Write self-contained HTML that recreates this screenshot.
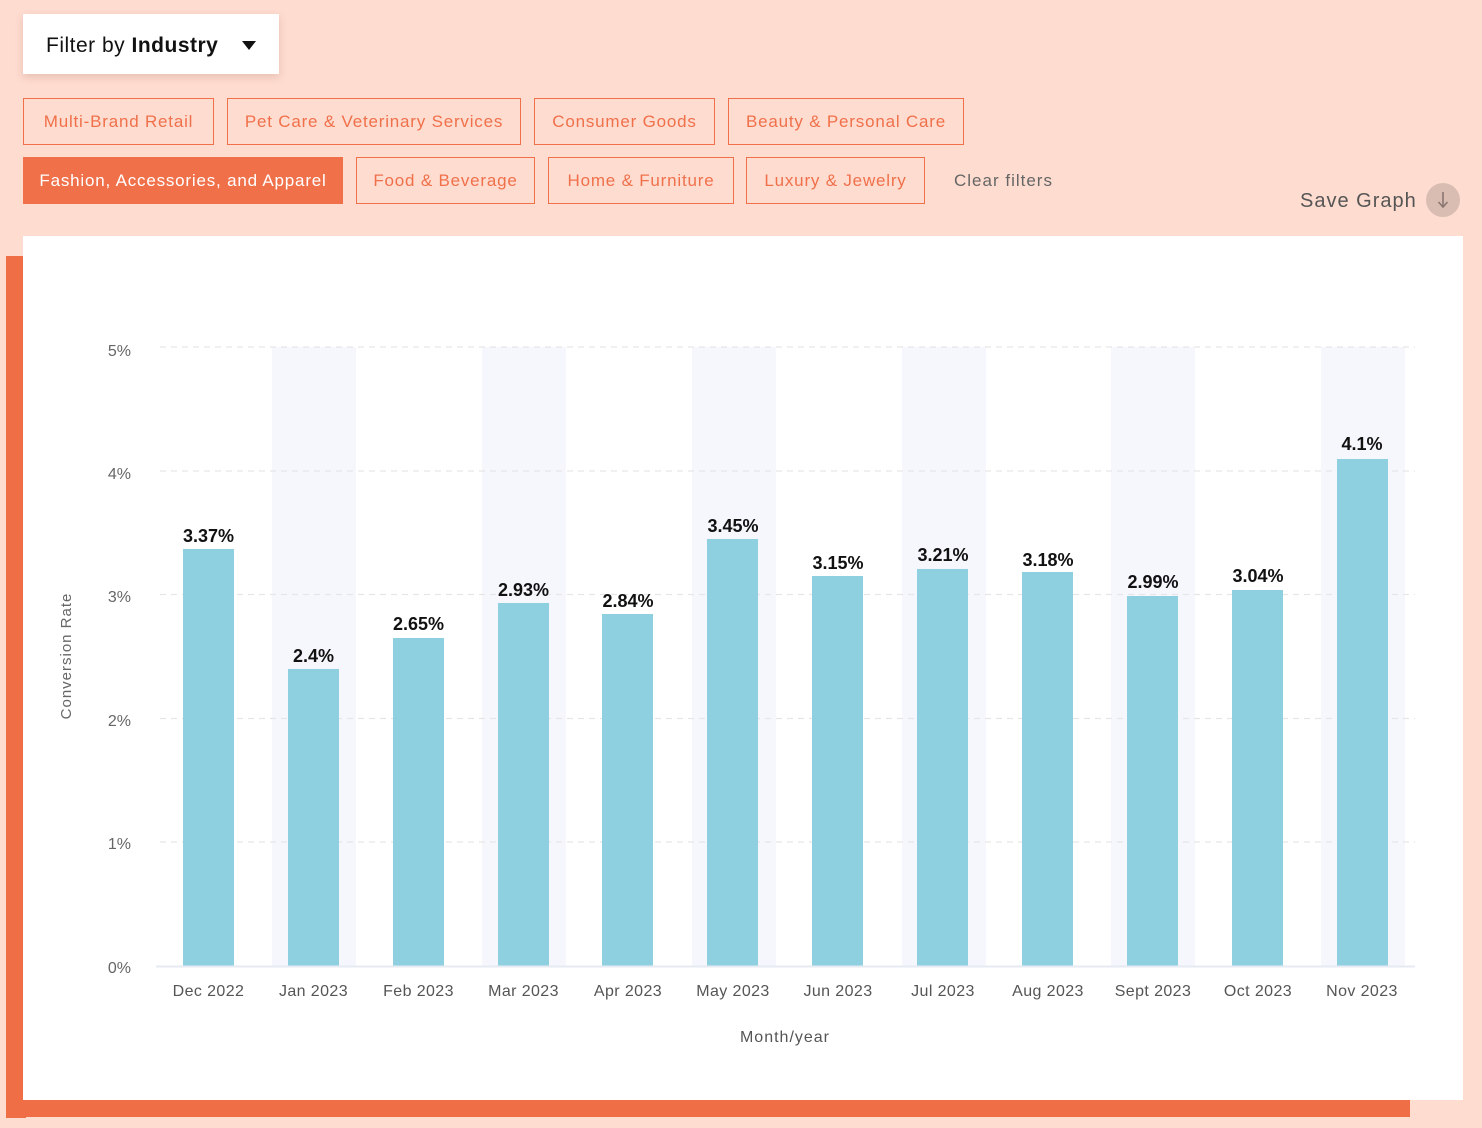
<!DOCTYPE html>
<html><head><meta charset="utf-8">
<style>
html,body{margin:0;padding:0;}
body{width:1482px;height:1128px;background:#fedcd0;position:relative;overflow:hidden;font-family:"Liberation Sans",sans-serif;}
.abs{position:absolute;}
.filter{left:23px;top:14px;width:256px;height:60px;background:#fff;box-shadow:0 3px 8px rgba(120,60,40,0.18);}
.filter span{position:absolute;left:23px;top:20px;font-size:21px;color:#111;white-space:nowrap;letter-spacing:0.5px;}
.tri{position:absolute;left:219px;top:27px;width:0;height:0;border-left:7px solid transparent;border-right:7px solid transparent;border-top:9px solid #111;}
.chip{position:absolute;box-sizing:border-box;border:1px solid #f0704a;color:#f0704a;font-size:17px;display:flex;align-items:center;justify-content:center;white-space:nowrap;letter-spacing:0.8px;}
.chip.on{background:#f0704a;color:#fff;}
</style></head><body>
<div class="abs filter"><span>Filter by <b>Industry</b></span><div class="tri"></div></div>

<div class="chip" style="left:23px;top:98px;width:191px;height:47px;">Multi-Brand Retail</div>
<div class="chip" style="left:227px;top:98px;width:294px;height:47px;">Pet Care &amp; Veterinary Services</div>
<div class="chip" style="left:534px;top:98px;width:181px;height:47px;">Consumer Goods</div>
<div class="chip" style="left:728px;top:98px;width:236px;height:47px;">Beauty &amp; Personal Care</div>

<div class="chip on" style="left:23px;top:157px;width:320px;height:47px;">Fashion, Accessories, and Apparel</div>
<div class="chip" style="left:356px;top:157px;width:179px;height:47px;">Food &amp; Beverage</div>
<div class="chip" style="left:548px;top:157px;width:186px;height:47px;">Home &amp; Furniture</div>
<div class="chip" style="left:746px;top:157px;width:179px;height:47px;">Luxury &amp; Jewelry</div>
<div class="abs" style="left:954px;top:171px;font-size:17px;color:#666;white-space:nowrap;letter-spacing:1px;">Clear filters</div>

<div class="abs" style="left:1300px;top:190px;font-size:20px;color:#555;white-space:nowrap;letter-spacing:1px;">Save Graph</div>
<svg class="abs" style="left:1424px;top:181px;" width="38" height="38" viewBox="0 0 38 38">
<circle cx="19" cy="19" r="17" fill="#d9bdb2"/>
<line x1="19" y1="11" x2="19" y2="25" stroke="#8a7670" stroke-width="1.6"/>
<path d="M14.5 21 L19 26 L23.5 21" fill="none" stroke="#8a7670" stroke-width="1.6"/>
</svg>

<!-- orange frame -->
<div class="abs" style="left:6px;top:256px;width:20px;height:862px;background:#ef6e46;"></div>
<div class="abs" style="left:6px;top:1098px;width:1404px;height:19px;background:#ef6e46;"></div>
<!-- white card -->
<div class="abs" style="left:23px;top:236px;width:1440px;height:864px;background:#fff;"></div>

<svg class="abs" style="left:0;top:0;" width="1482" height="1128" viewBox="0 0 1482 1128" font-family="Liberation Sans, sans-serif">
<g fill="#f6f7fc">
<rect x="272" y="347" width="84" height="619"/>
<rect x="482" y="347" width="84" height="619"/>
<rect x="692" y="347" width="84" height="619"/>
<rect x="902" y="347" width="84" height="619"/>
<rect x="1111" y="347" width="84" height="619"/>
<rect x="1321" y="347" width="84" height="619"/>
</g>
<g stroke="#e6e6e8" stroke-width="1.2" stroke-dasharray="6 5">
<line x1="160" y1="347" x2="1415" y2="347"/>
<line x1="160" y1="471" x2="1415" y2="471"/>
<line x1="160" y1="594.5" x2="1415" y2="594.5"/>
<line x1="160" y1="718.5" x2="1415" y2="718.5"/>
<line x1="160" y1="842" x2="1415" y2="842"/>
</g>
<g fill="#666" font-size="16" text-anchor="end">
<text x="131" y="356">5%</text>
<text x="131" y="479">4%</text>
<text x="131" y="602">3%</text>
<text x="131" y="726">2%</text>
<text x="131" y="849">1%</text>
<text x="131" y="973">0%</text>
</g>
<g fill="#8fd0e0">
<rect x="183" y="549" width="51" height="417"/>
<rect x="288" y="669" width="51" height="297"/>
<rect x="393" y="638" width="51" height="328"/>
<rect x="498" y="603" width="51" height="363"/>
<rect x="602" y="614" width="51" height="352"/>
<rect x="707" y="539" width="51" height="427"/>
<rect x="812" y="576" width="51" height="390"/>
<rect x="917" y="569" width="51" height="397"/>
<rect x="1022" y="572" width="51" height="394"/>
<rect x="1127" y="596" width="51" height="370"/>
<rect x="1232" y="590" width="51" height="376"/>
<rect x="1337" y="459" width="51" height="507"/>
</g>
<line x1="156" y1="966.5" x2="1415" y2="966.5" stroke="#e6eaf2" stroke-width="2"/>
<g fill="#111" font-size="18" font-weight="bold" text-anchor="middle">
<text x="208.5" y="542">3.37%</text>
<text x="313.5" y="662">2.4%</text>
<text x="418.5" y="630">2.65%</text>
<text x="523.5" y="596">2.93%</text>
<text x="628" y="607">2.84%</text>
<text x="733" y="532">3.45%</text>
<text x="838" y="569">3.15%</text>
<text x="943" y="561">3.21%</text>
<text x="1048" y="566">3.18%</text>
<text x="1153" y="588">2.99%</text>
<text x="1258" y="582">3.04%</text>
<text x="1362" y="450">4.1%</text>
</g>
<g fill="#555" font-size="16" text-anchor="middle" letter-spacing="0.4">
<text x="208.5" y="996">Dec 2022</text>
<text x="313.5" y="996">Jan 2023</text>
<text x="418.5" y="996">Feb 2023</text>
<text x="523.5" y="996">Mar 2023</text>
<text x="628" y="996">Apr 2023</text>
<text x="733" y="996">May 2023</text>
<text x="838" y="996">Jun 2023</text>
<text x="943" y="996">Jul 2023</text>
<text x="1048" y="996">Aug 2023</text>
<text x="1153" y="996">Sept 2023</text>
<text x="1258" y="996">Oct 2023</text>
<text x="1362" y="996">Nov 2023</text>
</g>
<text x="785" y="1042" fill="#555" font-size="16" text-anchor="middle" letter-spacing="1">Month/year</text>
<text transform="translate(71,656) rotate(-90)" fill="#666" font-size="15" text-anchor="middle" letter-spacing="1">Conversion Rate</text>
</svg>
</body></html>
